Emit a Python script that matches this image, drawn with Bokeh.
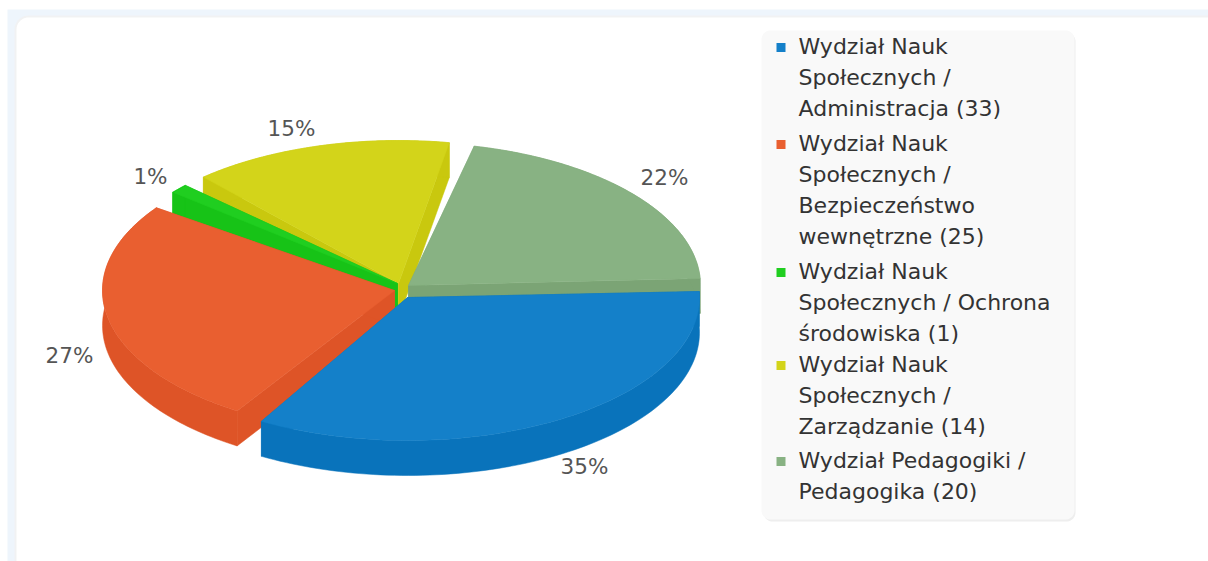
import numpy as np
from bokeh.plotting import figure
from bokeh.models import Range1d
from bokeh.core.properties import value
from bokeh.embed import file_html
from bokeh.resources import INLINE

# ---- data
categories = [
    ["Wydział Nauk", "Społecznych /", "Administracja (33)"],
    ["Wydział Nauk", "Społecznych /", "Bezpieczeństwo", "wewnętrzne (25)"],
    ["Wydział Nauk", "Społecznych / Ochrona", "środowiska (1)"],
    ["Wydział Nauk", "Społecznych /", "Zarządzanie (14)"],
    ["Wydział Pedagogiki /", "Pedagogika (20)"],
]
counts = [33, 25, 1, 14, 20]
top_colors = ["#1480C9", "#E95F30", "#20CE20", "#D3D41A", "#88B283"]
wall_colors = ["#0973BB", "#DE5427", "#17C317", "#C9C80E", "#7BA475"]

# ---- layout (pixels of the page)
W, H = 1208, 561
apex = [(407, 297), (394, 290), (397, 283), (398, 283), (408, 285)]
label_pos = [(585, 467), (70, 356), (151, 177), (292, 129), (665, 178)]
RX, RY, DEPTH = 292, 143, 35
START = -2.4
USABLE = 345.0
gaps_after = [2.6, 4.3, 4.7, 3.0, 3.0]
draw_order = [3, 2, 4, 1, 0]
legend_first_line = [46, 143, 271, 364, 460]
LINE_H = 31

p = figure(width=W, height=H, output_backend="svg", toolbar_location=None,
           x_range=Range1d(0, W), y_range=Range1d(H, 0),
           min_border=0, outline_line_color=None,
           background_fill_color="white", border_fill_color="white")
p.axis.visible = False
p.grid.visible = False


def rounded(x0, y0, x1, y1, r):
    xs, ys = [], []
    for cx, cy, a0 in [(x1 - r, y0 + r, -90), (x1 - r, y1 - r, 0), (x0 + r, y1 - r, 90), (x0 + r, y0 + r, 180)]:
        t = np.radians(np.linspace(a0, a0 + 90, 12))
        xs += list(cx + r * np.cos(t))
        ys += list(cy + r * np.sin(t))
    return xs, ys


def box(x0, y0, x1, y1, r, color):
    xs, ys = rounded(x0, y0, x1, y1, r)
    p.patch(xs, ys, fill_color=color, line_color=None)


# page backdrop and card
p.quad(left=[7], right=[1210], top=[9], bottom=[565], fill_color="#EEF5FC", line_color=None)
box(14, 15, 1240, 600, 14, "#F1F2F3")
box(16, 17, 1240, 600, 12, "#FFFFFF")

# ---- slices
total = sum(counts)
spans = [c / total * USABLE for c in counts]
angles = []
cur = START
for s, g in zip(spans, gaps_after):
    angles.append((cur, cur + s))
    cur += s + g

for i in draw_order:
    a0, a1 = angles[i]
    cx, cy = apex[i]
    t = np.radians(np.linspace(a0, a1, 90))
    ax = cx + RX * np.cos(t)
    ay = cy + RY * np.sin(t)
    wc, tc = wall_colors[i], top_colors[i]
    # radial walls
    for ex, ey in [(ax[0], ay[0]), (ax[-1], ay[-1])]:
        p.patch([cx, ex, ex, cx], [cy, ey, ey + DEPTH, cy + DEPTH],
                fill_color=wc, line_color=wc, line_width=0.5)
    # outer wall
    p.patch(list(ax) + list(ax[::-1]), list(ay) + list((ay + DEPTH)[::-1]),
            fill_color=wc, line_color=wc, line_width=0.5)
    # top face
    p.patch([cx] + list(ax), [cy] + list(ay), fill_color=tc, line_color=tc, line_width=0.5)

# percentage labels
for i, c in enumerate(counts):
    p.text([label_pos[i][0] - 1], [label_pos[i][1] - 1], text=[f"{round(c / total * 100)}%"],
           text_font=value("DejaVu Sans"), text_font_size="21.5px", text_color="#555555",
           text_align="center", text_baseline="middle")

# ---- legend
box(763, 32, 1075, 521, 9, "#EEEEEE")
box(761, 30, 1074, 519, 9, "#F9F9F9")
for i, lines in enumerate(categories):
    y0 = legend_first_line[i]
    p.scatter([780.5], [y0 + 1], marker="square", size=9, fill_color=top_colors[i], line_color=None)
    for j, line in enumerate(lines):
        p.text([798], [y0 + j * LINE_H], text=[line], text_font=value("DejaVu Sans"),
               text_font_size="22px", text_color="#333333",
               text_align="left", text_baseline="middle")

open("out.html", "w").write(file_html(p, INLINE))
